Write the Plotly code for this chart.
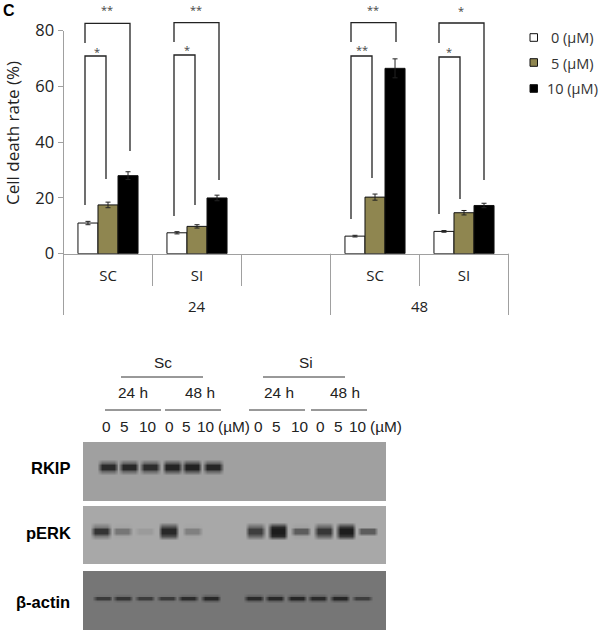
import plotly.graph_objects as go

# ---- bar chart data
slots = ["SC 24", "SI 24", "gap", "SC 48", "SI 48"]
slot_labels = ["SC", "SI", "", "SC", "SI"]
time_labels = ["24", "48"]
dose_names = ["0 (µM)", "5 (µM)", "10 (µM)"]
dose0 = [11.0, 7.5, None, 6.3, 8.0]
dose5 = [17.5, 9.8, None, 20.3, 14.7]
dose10 = [28.0, 20.0, None, 66.5, 17.3]
err0 = [0.6, 0.4, 0, 0.3, 0.3]
err5 = [1.0, 0.6, 0, 1.1, 0.8]
err10 = [1.4, 1.0, 0, 3.4, 0.8]
y_ticks = [0, 20, 40, 60, 80]

# ---- blot data: lane position, band grey level (None = no band), band spread
rkip_lanes = [0.31, 1.24, 2.18, 3.16, 4.04, 4.98, 6.85, 7.85, 8.85, 9.9, 10.9, 11.9]
perk_lanes = [0, 0.95, 1.95, 3.0, 4.05, 5.0, 6.85, 7.85, 8.88, 9.9, 10.88, 11.85]
actin_lanes = [0.08, 0.97, 1.95, 2.93, 3.87, 4.88, 6.8, 7.73, 8.7, 9.64, 10.62, 11.6]
rkip_bands = [42, 40, 44, 36, 34, 38, None, None, None, None, None, None]
perk_bands = [52, 118, 155, 40, 128, None, 62, 28, 92, 55, 28, 92]
actin_bands = [58, 52, 60, 58, 44, 40, 42, 40, 38, 42, 38, 62]
rkip_spread = [0.5, 0.5, 0.5, 0.6, 0.6, 0.5, 0, 0, 0, 0, 0, 0]
perk_spread = [0.4, 0.1, 0, 0.7, 0.1, 0, 0.6, 0.9, 0.1, 0.6, 0.8, 0]
actin_spread = [0.1, 0.2, 0.1, 0.1, 0.2, 0.3, 0.3, 0.3, 0.3, 0.3, 0.3, 0.1]

W, H = 600, 631
def px(x): return x / W
def py(y): return 1 - y / H

FONT = "Open Sans"
ARIAL = "Liberation Sans"
AXIS_GREY = "#a0a0a0"
TXT = "#222222"
FILLS = ["white", "#8f8650", "black"]

fig = go.Figure()
for name, vals, errs, col in zip(dose_names, [dose0, dose5, dose10], [err0, err5, err10], FILLS):
    fig.add_trace(go.Bar(
        x=slots, y=vals, name=name, showlegend=False,
        marker=dict(color=col, line=dict(color="#111111", width=1)),
        error_y=dict(type="data", array=errs, color="#222222", thickness=1, width=2.5),
    ))

# ---- blots as smooth heat maps
def band_grid(lanes, bands, spread, bg, half_band, half_px):
    xs = [-3.0]
    core, outer = [bg], [bg]
    for pos, v, s in zip(lanes, bands, spread):
        level = bg if v is None else v
        xs += [pos - 0.47, pos - 0.27, pos + 0.27, pos + 0.47]
        core += [bg, level, level, bg]
        edge = bg + s * (level - bg)
        outer += [bg, edge, edge, bg]
    xs.append(16.0)
    core.append(bg)
    outer.append(bg)
    blank = [bg] * len(xs)
    ys = [-80, -2 * half_px, -half_px, -half_band, half_band, half_px, 2 * half_px, 80]
    z = [blank, blank, outer, core, core, outer, blank, blank]
    return xs, ys, z

panels = [
    (rkip_lanes, rkip_bands, rkip_spread, 160, 1.8, 4.0, 442, 501, 467),
    (perk_lanes, perk_bands, perk_spread, 168, 1.8, 4.5, 506, 564, 531),
    (actin_lanes, actin_bands, actin_spread, 118, 0.8, 2.5, 571, 630, 598),
]
GREY = [[0, "#000000"], [1, "#ffffff"]]
for i, (lanes, bands, spread, bg, hb, hp, top, bottom, centre) in enumerate(panels):
    n = i + 2
    xs, ys, z = band_grid(lanes, bands, spread, bg, hb, hp)
    fig.add_trace(go.Heatmap(x=xs, y=ys, z=z, zmin=0, zmax=255, colorscale=GREY,
                             zsmooth="best", showscale=False, hoverinfo="skip",
                             xaxis=f"x{n}", yaxis=f"y{n}"))
    fig.layout[f"xaxis{n}"] = dict(domain=[px(83), px(386)], range=[-0.8, 12.67], visible=False,
                                   anchor=f"y{n}", automargin=False)
    fig.layout[f"yaxis{n}"] = dict(domain=[py(bottom), py(top)],
                                   range=[bottom - centre, top - centre], visible=False,
                                   anchor=f"x{n}", automargin=False)

# ---- significance brackets: left, right, top, left end, right end
brackets = [
    (85, 130, 23.3, 43, 151), (85, 106, 56, 205, 179),
    (174, 219, 22.7, 42, 180), (174, 195, 55, 216, 205),
    (351, 396, 22.7, 42, 42), (351, 372, 56, 219, 178),
    (439, 484, 23, 43, 180), (439, 460, 57, 214, 199),
]
shapes = []
for l, r, t, a, b in brackets:
    shapes.append(dict(type="path", xref="paper", yref="paper",
                       path=f"M{px(l)},{py(a)} L{px(l)},{py(t)} L{px(r)},{py(t)} L{px(r)},{py(b)}",
                       line=dict(color="#222222", width=1.3)))
# ---- long dividers under the axis
for x in (63.5, 330.5, 508.5):
    shapes.append(dict(type="line", xref="paper", yref="paper", x0=px(x), x1=px(x),
                       y0=py(253.7), y1=py(315), line=dict(color=AXIS_GREY, width=1)))
# ---- blot header rules
for l, r, y in [(121, 203, 377), (263, 345, 377), (105, 161, 410), (165, 221, 410),
                (249, 305, 410), (311, 367, 410)]:
    shapes.append(dict(type="line", xref="paper", yref="paper", x0=px(l), x1=px(r),
                       y0=py(y), y1=py(y), line=dict(color="#333333", width=1)))
# ---- key swatches
for y, col in zip((37.5, 62.5, 88.5), FILLS):
    shapes.append(dict(type="rect", xref="paper", yref="paper", x0=px(530), x1=px(537.5),
                       y0=py(y + 3.8), y1=py(y - 3.8), fillcolor=col,
                       line=dict(color="#111111", width=1)))

def note(text, x, y, size, family=ARIAL, bold=False, color="#222222", angle=0):
    return dict(text=f"<b>{text}</b>" if bold else text, x=px(x), y=py(y), xref="paper", yref="paper",
                showarrow=False, font=dict(family=family, size=size, color=color), textangle=angle,
                xanchor="center", yanchor="middle")

ann = [note("C", 9, 11, 16, bold=True, color="#000000")]
ann.append(note("Cell death rate (%)", 12, 133, 17, family=FONT, color=TXT, angle=-90))
for t, x, y in [("**", 107, 10), ("*", 97, 51), ("**", 196, 10), ("*", 187, 50),
                ("**", 373, 10), ("**", 362, 50), ("*", 461, 11), ("*", 449, 51)]:
    ann.append(note(t, x, y, 11, family=FONT, color="#444444"))
for t, x, y in [("Sc", 163, 362), ("Si", 306, 362), ("24 h", 133, 393), ("48 h", 200, 393),
                ("24 h", 279, 393), ("48 h", 345, 393)]:
    ann.append(note(t, x, y, 15.4))
for t, x in [("0", 106), ("5", 124), ("10", 147), ("0", 169), ("5", 186), ("10", 205), ("(µM)", 234),
             ("0", 258), ("5", 276), ("10", 299), ("0", 320), ("5", 338), ("10", 357), ("(µM)", 386)]:
    ann.append(note(t, x, 426, 15.4))
for t, x, y in [("RKIP", 50, 468), ("pERK", 48, 533), ("β-actin", 43, 602)]:
    ann.append(note(t, x, y, 16.5, bold=True, color="#000000"))
for t, x in zip(time_labels, (197, 419)):
    ann.append(note(t, x, 306, 15, family=FONT, color=TXT))
for t, y in zip(dose_names, (38, 63, 88)):
    ann.append(note(t, 572, y, 14.5, family=FONT, color="#333333"))

fig.update_layout(
    template="none",
    width=W, height=H, margin=dict(l=0, r=0, t=0, b=0), autosize=False,
    paper_bgcolor="white", plot_bgcolor="white",
    barmode="group", bargap=0.325, bargroupgap=0, showlegend=False,
    xaxis=dict(domain=[px(63.5), px(508.5)], type="category", categoryorder="array", categoryarray=slots,
               tickmode="array", tickvals=slots, ticktext=slot_labels, tickson="boundaries",
               showline=True, linecolor=AXIS_GREY, linewidth=1, ticks="outside", ticklen=31,
               tickcolor=AXIS_GREY, tickwidth=1, ticklabelstandoff=8,
               tickfont=dict(family=FONT, size=15, color=TXT), showgrid=False, anchor="y",
               automargin=False),
    yaxis=dict(domain=[py(253.7), py(30.7)], range=[0, 80], tickvals=y_ticks, showline=True,
               linecolor=AXIS_GREY, linewidth=1, ticks="outside", ticklen=5, tickcolor=AXIS_GREY,
               showgrid=False, zeroline=False, tickfont=dict(family=FONT, size=16.5, color=TXT),
               anchor="x", automargin=False),
    shapes=shapes, annotations=ann,
)
fig.write_html("out.html", post_script="document.body.style.margin='0';",
               config={"displayModeBar": False})
